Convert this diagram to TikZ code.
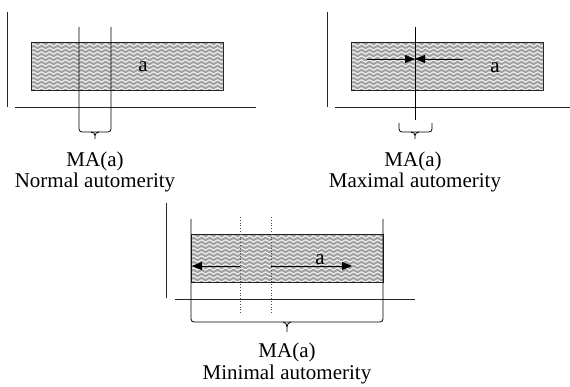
\documentclass[tikz,border=0pt]{standalone}
\usepackage{fontspec}
\setmainfont{Liberation Serif}
\usetikzlibrary{decorations.pathmorphing,arrows.meta}
\tikzset{
  lbl/.style={font=\fontsize{21}{22}\selectfont, inner sep=0pt, anchor=base},
  axis/.style={line width=0.9pt, black!85},
  bar/.style={draw=black!85, line width=1pt},
  guide/.style={line width=0.8pt},
  dotguide/.style={line width=0.8pt, dotted, black!70},
  brc/.style={line width=0.8pt, rounded corners=3pt},
  tipline/.style={-{Triangle[length=10pt,width=8pt]}, line width=0.9pt},
  wave/.style={gray!75, line width=2pt, decorate,
    decoration={snake, segment length=8pt, amplitude=1.2pt}}
}
% shaded bar with wavy hatching: x0, y0, x1, y1
\newcommand\wavebar[4]{%
  \begin{scope}
    \clip (#1,#2) rectangle (#3,#4);
    \fill[gray!8] (#1,#2) rectangle (#3,#4);
    \foreach \k in {0,...,12}
      \draw[wave] (#1-8,#2+\k*4) -- (#3+8,#2+\k*4);
  \end{scope}
  \draw[bar] (#1,#2) rectangle (#3,#4);
}
% brace tip hanging below a horizontal line: x, y, depth
\newcommand\bracetip[3]{%
  \draw[line width=0.8pt] (#1-4,#2) to[out=0,in=90] (#1,#2+#3*0.5) -- (#1,#2+#3);
  \draw[line width=0.8pt] (#1+4,#2) to[out=180,in=90] (#1,#2+#3*0.5);
}
\begin{document}
\begin{tikzpicture}[x=1pt,y=-1pt]
\useasboundingbox (0,0) rectangle (570,387);

% ---------- normal automerity ----------
\wavebar{31}{43}{223}{91}
\draw[axis] (7,12) -- (7,107);
\draw[axis] (15,107) -- (256,107);
\draw[brc] (79,27) -- (79,132) -- (111,132) -- (111,27);
\bracetip{95}{132}{7}
\node[lbl] (a1) at (143,72) {a};
\node[lbl] (ma1) at (95,167) {MA(a)};
\node[lbl] (t1) at (95,188) {Normal automerity};

% ---------- maximal automerity ----------
\wavebar{351}{43}{543}{91}
\draw[axis] (327,12) -- (327,107);
\draw[axis] (335,107) -- (570,107);
\draw[guide] (415,27) -- (415,120);
\coordinate (m2) at (415,59);
\coordinate (l2) at (367,59);
\coordinate (r2) at (463,59);
\draw[tipline] (l2) -- (m2);
\draw[tipline] (r2) -- (m2);
\draw[brc] (399,123) -- (399,132) -- (432,132) -- (432,123);
\bracetip{415}{132}{7}
\node[lbl] (a2) at (495,73) {a};
\node[lbl] (ma2) at (413,167) {MA(a)};
\node[lbl] (t2) at (415,188) {Maximal automerity};

% ---------- minimal automerity ----------
\wavebar{191}{235}{383}{283}
\draw[axis] (166,203) -- (166,298);
\draw[axis] (175,299) -- (415,299);
\draw[brc] (191,219) -- (191,322) -- (383,322) -- (383,219);
\bracetip{287}{322}{10}
\draw[dotguide] (240,217) -- (240,313);
\draw[dotguide] (271,217) -- (271,313);
\coordinate (l3s) at (240,266);
\coordinate (l3e) at (192,266);
\coordinate (r3s) at (271,266);
\coordinate (r3e) at (352,266);
\draw[tipline] (l3s) -- (l3e);
\draw[tipline] (r3s) -- (r3e);
\node[lbl] (a3) at (320,265) {a};
\node[lbl] (ma3) at (287,357) {MA(a)};
\node[lbl] (t3) at (287,379) {Minimal automerity};
\end{tikzpicture}
\end{document}
